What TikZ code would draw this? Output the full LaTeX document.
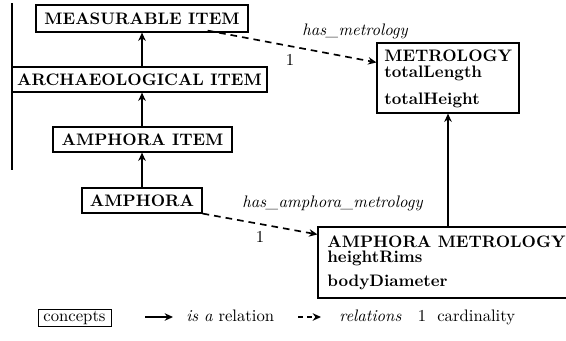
\documentclass[tikz,border=0pt]{standalone}
\usetikzlibrary{arrows.meta,calc}
\begin{document}
\begin{tikzpicture}[x=0.6pt,y=-0.6pt,
  box/.style={draw,line width=0.7pt,inner sep=0pt,font=\bfseries},
  lbl/.style={inner sep=0pt,font=\bfseries,anchor=base west},
  isa/.style={line width=1pt,-{Stealth[length=5pt,width=4.5pt]}},
  rel/.style={line width=1pt,dash pattern=on 4pt off 3pt,-{Stealth[length=5pt,width=4.5pt]}},
  txt/.style={inner sep=0pt}]
\clip (0,0) rectangle (566,340);
% single-line concept boxes
\node[box,minimum width=127.2pt,minimum height=16.2pt] (meas) at (142,18.5) {MEASURABLE ITEM};
\node[box,minimum width=153pt,minimum height=15pt] (arch) at (139.5,79.5) {ARCHAEOLOGICAL ITEM};
\node[box,minimum width=107.4pt,minimum height=15pt] (aitem) at (142.5,139.5) {AMPHORA ITEM};
\node[box,minimum width=72pt,minimum height=15pt] (amph) at (142,200.5) {AMPHORA};
% metrology boxes
\node[box,minimum width=85.2pt,minimum height=42pt] (metro) at (448,78) {};
\node[lbl] (metroA) at (384,61.7) {METROLOGY};
\node[lbl] (metroB) at (384,77.5) {totalLength};
\node[lbl] (metroC) at (384,104) {totalHeight};
\node[box,minimum width=156pt,minimum height=42.6pt] (am) at (448,262.5) {};
\node[lbl] (amA) at (327,247.7) {AMPHORA METROLOGY};
\node[lbl] (amB) at (327,262) {heightRims};
\node[lbl] (amC) at (327,286) {bodyDiameter};
% left line
\draw[line width=0.7pt] (12,3) -- (12,170);
% is-a relations
\draw[isa] (arch.north -| meas.south) -- (meas.south);
\draw[isa] (amph.north |- aitem.north) -- (amph.north |- arch.south);
\draw[isa] (amph.north) -- (amph.north |- aitem.south);
\draw[isa] (am.north) -- (metro.south);
% relations
\draw[rel] ($(meas.south east)+(-41,-2)$) -- ($(metro.north west)+(0,20)$);
\node[txt,font=\itshape] (l1) at (355,31) {has\_metrology};
\node[txt] (c1) at (290,60) {1};
\draw[rel] (amph.south east) -- ($(am.north west)+(0,8)$);
\node[txt,font=\itshape] (l2) at (332.5,203) {has\_amphora\_metrology};
\node[txt] (c2) at (260,237) {1};
% legend
\node[draw,line width=0.6pt,minimum width=43.8pt,minimum height=10.2pt,inner sep=0pt] (lc) at (74.5,317.5) {concepts};
\coordinate (la1) at (145,317);
\coordinate (la2) at (173,317);
\draw[isa] (la1) -- (la2);
\node[txt,anchor=base west] (lt1) at (186,321) {\textit{is a} relation};
\coordinate (lb1) at (298,317);
\coordinate (lb2) at (321,317);
\draw[rel,dash pattern=on 3pt off 2.5pt] (lb1) -- (lb2);
\node[txt,anchor=base west,font=\itshape] (lt2) at (339,321) {relations};
\node[txt,anchor=base] (lt3) at (422,321) {1};
\node[txt,anchor=base west] (lt4) at (437,321) {cardinality};
\end{tikzpicture}
\end{document}
